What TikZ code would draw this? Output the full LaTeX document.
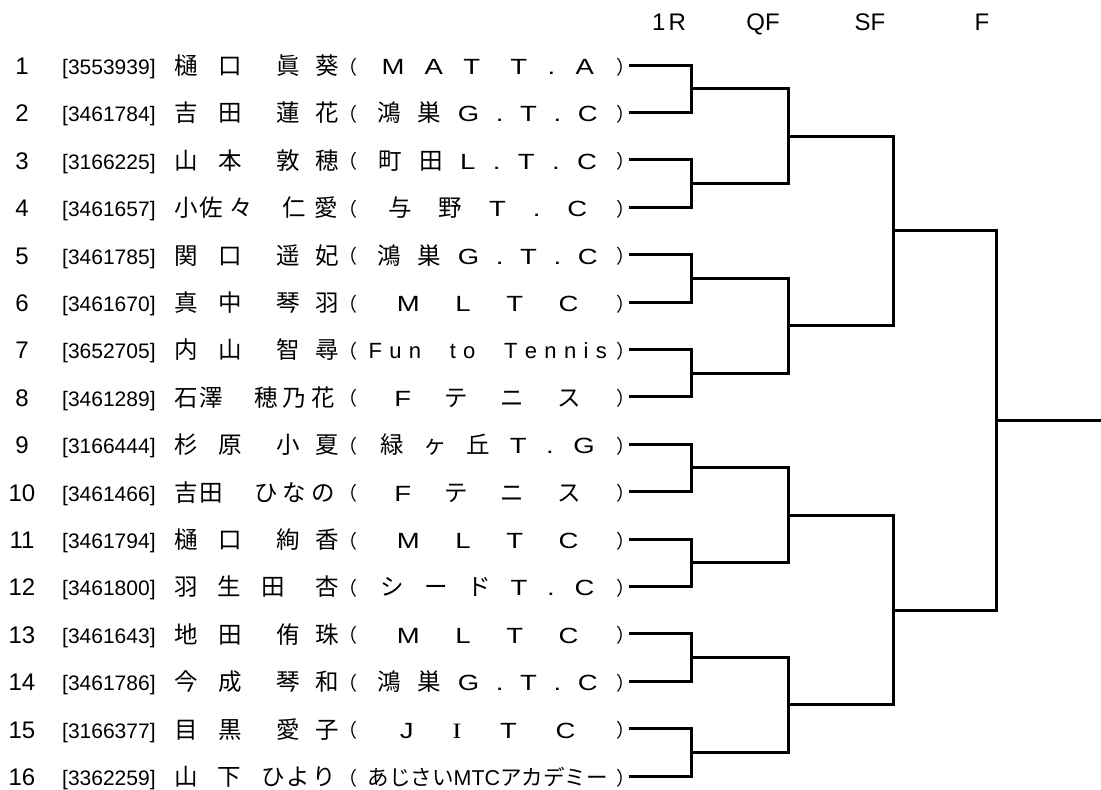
\documentclass[tikz,border=0pt]{standalone}
\usepackage{fontspec}
\setmainfont{Liberation Sans}
\newfontfamily\jp{Noto Sans CJK JP}
\newfontfamily\wide[FakeStretch=1.25]{Liberation Sans}
\newfontfamily\wideserif[FakeStretch=1.25]{Liberation Serif}
\newcommand\J[1]{{\jp\fontsize{23.5}{23.5}\selectfont #1}}
\newcommand\ch[2]{\makebox[0pt][l]{\hspace*{#1pt}#2}}
\newcommand\nmA[4]{\makebox[158pt][l]{\ch{0}{#1}\ch{44}{#2}\ch{102}{#3}\ch{141}{#4}}}
\newcommand\nmB[5]{\makebox[158pt][l]{\ch{0}{#1}\ch{25}{#2}\ch{55}{#3}\ch{108}{#4}\ch{140}{#5}}}
\newcommand\nmC[5]{\makebox[158pt][l]{\ch{0}{#1}\ch{25}{#2}\ch{80}{#3}\ch{108}{#4}\ch{137}{#5}}}
\newcommand\nmD[4]{\makebox[158pt][l]{\ch{0}{#1}\ch{43}{#2}\ch{87}{#3}\ch{141}{#4}}}
\newcommand\nmE[5]{\makebox[158pt][l]{\ch{0}{#1}\ch{43}{#2}\ch{87}{#3}\ch{112}{#4}\ch{138}{#5}}}
\newcommand\club[1]{\makebox[253pt][s]{\hfill\foreach\ci in {#1}{\ci\hfill}}}
\tikzset{
  numst/.style={anchor=base,inner sep=0pt,font=\fontsize{24}{24}\selectfont},
  idst/.style={anchor=base west,inner sep=0pt,font=\fontsize{21}{21}\selectfont},
  nmst/.style={anchor=base west,inner sep=0pt,font=\jp\fontsize{23.5}{23.5}\selectfont},
  parst/.style={anchor=base west,inner sep=0pt,font=\jp\fontsize{19}{19}\selectfont},
  clst/.style={anchor=base west,inner sep=0pt,font=\wide\fontsize{22}{22}\selectfont},
  ttl/.style={anchor=base,inner sep=0pt,font=\fontsize{24}{24}\selectfont},
  br/.style={line width=3pt,black}
}
\newcommand\entry[4]{%
  \pgfmathsetmacro\by{65+(#1-1)*47.4+9.5}%
  \node[numst] (num#1) at (22,\by) {#1};
  \node[idst] (id#1) at (62,\by) {[#2]};
  \node[nmst] (nm#1) at (174,\by) {#3};
  \node[parst] (lp#1) at (338.7,{\by-0.5}) {（};
  \node[clst] (cl#1) at (361,\by) {#4};
  \node[parst] (rp#1) at (616,{\by-0.5}) {）};
}
\begin{document}
\begin{tikzpicture}[x=1pt,y=-1pt]
\useasboundingbox (0,0) rectangle (1101,790);
% titles
\node[ttl] (t1) at (669,30) {1\hspace{3pt}R};
\node[ttl] (t2) at (763,30) {QF};
\node[ttl] (t3) at (870,30) {SF};
\node[ttl] (t4) at (982,30) {F};
% entries
\entry{1}{3553939}{\nmA{樋}{口}{眞}{葵}}{\club{M,A,T\hspace{10pt},T,.,A}}
\entry{2}{3461784}{\nmA{吉}{田}{蓮}{花}}{\club{\J{鴻},\J{巣},G,.,T,.,C}}
\entry{3}{3166225}{\nmA{山}{本}{敦}{穂}}{\club{\J{町},\J{田},L,.,T,.,C}}
\entry{4}{3461657}{\nmB{小}{佐}{々}{仁}{愛}}{\club{\J{与},\J{野},T,.,C}}
\entry{5}{3461785}{\nmA{関}{口}{遥}{妃}}{\club{\J{鴻},\J{巣},G,.,T,.,C}}
\entry{6}{3461670}{\nmA{真}{中}{琴}{羽}}{\club{M,L,T,C}}
\entry{7}{3652705}{\nmA{内}{山}{智}{尋}}{{\rmfamily\fontsize{22}{22}\selectfont\club{F,u,n,\hspace{14pt},t,o,\hspace{14pt},T,e,n,n,i,s}}}
\entry{8}{3461289}{\nmC{石}{澤}{穂}{乃}{花}}{\club{F,\J{テ},\J{ニ},\J{ス}}}
\entry{9}{3166444}{\nmA{杉}{原}{小}{夏}}{\club{\J{緑},\J{ヶ},\J{丘},T,.,G}}
\entry{10}{3461466}{\nmC{吉}{田}{ひ}{な}{の}}{\club{F,\J{テ},\J{ニ},\J{ス}}}
\entry{11}{3461794}{\nmA{樋}{口}{絢}{香}}{\club{M,L,T,C}}
\entry{12}{3461800}{\nmD{羽}{生}{田}{杏}}{\club{\J{シ},\J{ー},\J{ド},T,.,C}}
\entry{13}{3461643}{\nmA{地}{田}{侑}{珠}}{\club{M,L,T,C}}
\entry{14}{3461786}{\nmA{今}{成}{琴}{和}}{\club{\J{鴻},\J{巣},G,.,T,.,C}}
\entry{15}{3166377}{\nmA{目}{黒}{愛}{子}}{\club{J,{\wideserif I},T,C}}
\entry{16}{3362259}{\nmE{山}{下}{ひ}{よ}{り}}{\makebox[253pt]{\fontsize{21.5}{21.5}\selectfont{\jp あじさい}{\rmfamily MTC}{\jp アカデミー}}}
% bracket coordinates
\foreach \i in {1,...,16}{\coordinate (e\i) at (629,{65+(\i-1)*47.4});}
\foreach \k in {1,...,8}{\coordinate (a\k) at (691,{65+(2*\k-1.5)*47.4});}
\foreach \k in {1,...,4}{\coordinate (b\k) at (788,{65+(4*\k-2.5)*47.4});}
\foreach \k in {1,2}{\coordinate (c\k) at (893,{65+(8*\k-4.5)*47.4});}
\coordinate (d) at (996,{65+7.5*47.4});
\coordinate (fin) at (1101,{65+7.5*47.4});
% bracket lines
\foreach \k in {1,...,8}{%
  \pgfmathtruncatemacro\p{2*\k-1}\pgfmathtruncatemacro\q{2*\k}%
  \draw[br] (e\p) -| (a\k) |- (e\q);}
\foreach \k in {1,...,4}{%
  \pgfmathtruncatemacro\p{2*\k-1}\pgfmathtruncatemacro\q{2*\k}%
  \draw[br] (a\p) -| (b\k) |- (a\q);}
\foreach \k in {1,2}{%
  \pgfmathtruncatemacro\p{2*\k-1}\pgfmathtruncatemacro\q{2*\k}%
  \draw[br] (b\p) -| (c\k) |- (b\q);}
\draw[br] (c1) -| (d) |- (c2);
\draw[br] (d) -- (fin);
\end{tikzpicture}
\end{document}
